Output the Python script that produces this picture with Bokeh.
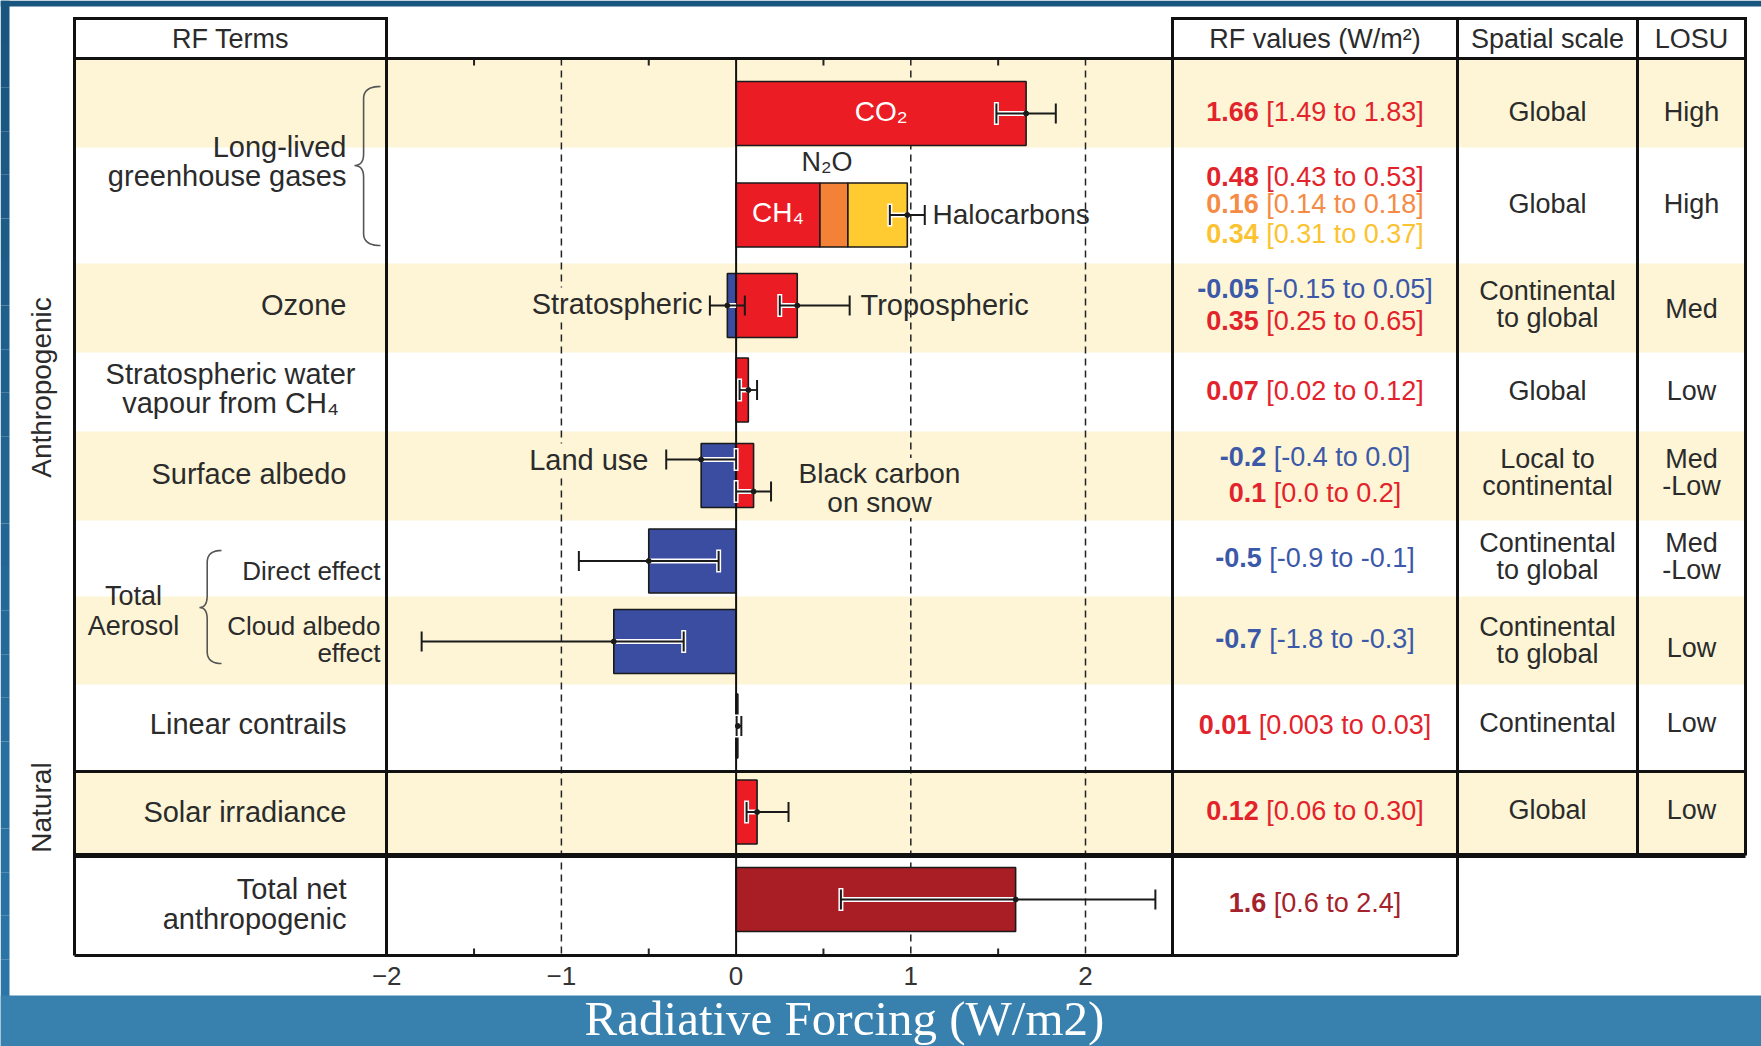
import numpy as np
from bokeh.plotting import figure
from bokeh.models import Range1d
from bokeh.core.properties import value
from bokeh.embed import file_html
from bokeh.resources import INLINE

# ---------------- data: radiative forcing terms (W/m^2) ----------------
terms = ["CO₂", "CH₄", "N₂O", "Halocarbons",
         "Stratospheric ozone", "Tropospheric ozone",
         "Stratospheric water vapour from CH₄",
         "Land use", "Black carbon on snow",
         "Aerosol direct effect", "Aerosol cloud albedo effect",
         "Linear contrails", "Solar irradiance", "Total net anthropogenic"]
best = [1.66, 0.48, 0.16, 0.34, -0.05, 0.35, 0.07, -0.2, 0.1, -0.5, -0.7, 0.01, 0.12, 1.6]
low = [1.49, 0.43, 0.14, 0.31, -0.15, 0.25, 0.02, -0.4, 0.0, -0.9, -1.8, 0.003, 0.06, 0.6]
high = [1.83, 0.53, 0.18, 0.37, 0.05, 0.65, 0.12, 0.0, 0.2, -0.1, -0.3, 0.03, 0.30, 2.4]
decimals = [2, 2, 2, 2, 2, 2, 2, 1, 1, 1, 1, 2, 2, 1]

spatial_scale = ["Global", "Global", "Continental\nto global", "Global",
                 "Local to\ncontinental", "Continental\nto global",
                 "Continental\nto global", "Continental", "Global"]
losu = ["High", "High", "Med", "Low", "Med\n-Low", "Med\n-Low", "Low", "Low", "Low"]

tick_values = [-2, -1, 0, 1, 2]

# ---------------- styling ----------------
FONT = "Liberation Sans"
SERIF = "Liberation Serif"
INK = "#2b2b2b"
BEIGE = "#fdf5d6"
RED, ORANGE, YELLOW, BLUE, DARK = "#ec1c24", "#f48236", "#ffcb31", "#3a4da0", "#a91d24"
bar_colors = [RED, RED, ORANGE, YELLOW, BLUE, RED, RED, BLUE, RED, BLUE, BLUE, RED, RED, DARK]
T_RED, T_OR, T_YE, T_BL, T_DK = "#e3232b", "#f58b45", "#fbc330", "#3c58a8", "#a4222b"
text_colors = [T_RED, T_RED, T_OR, T_YE, T_BL, T_RED, T_RED, T_BL, T_RED, T_BL, T_BL, T_RED, T_RED, T_DK]

# ---------------- page geometry (pixels) ----------------
W, H = 1761, 1046
ZERO_PX, UNIT_PX = 735.6, 174.7          # where 0 W/m2 sits and width of 1 W/m2


def X(px):
    return (px - ZERO_PX) / UNIT_PX


TAB_L, TERMS_R, PLOT_R, VAL_R, SP_R, LOSU_R = 74, 386, 1172, 1457, 1637, 1745
HEAD_T, HEAD_B = 18, 58
NAT_T, NAT_B, TAB_B = 771, 855, 955
bands = [(58, 147), (263, 352), (431, 520), (596, 684), (771, 855)]

bar_y = [113, 214.5, 214.5, 214.5, 305, 305, 389.5, 475, 475, 560.5, 641, 725.5, 811.5, 899]
err_y = [113, None, None, None, 305, 305, 389.5, 459, 491, 560.5, 641, 725.5, 811.5, 899]
value_y = [111, 176, 203, 233, 288, 320, 390, 456, 492, 557, 638, 724, 810, 902]
BAR_H = 64

p = figure(width=W, height=H, x_range=Range1d(X(0), X(W)), y_range=Range1d(H, 0),
           output_backend="svg", toolbar_location=None,
           x_axis_type=None, y_axis_type=None, min_border=0)
p.outline_line_color = None
p.background_fill_color = "white"
p.border_fill_color = "white"
p.grid.visible = False


def txt(x, y, s, size, color=INK, align="center", bold=False, font=FONT,
        baseline="middle", angle=0.0, **kw):
    p.text(x=[x], y=[y], text=[s], text_font=value(font), text_font_size=size,
           text_color=color, text_align=align, text_baseline=baseline,
           text_font_style="bold" if bold else "normal", angle=angle, **kw)


# ---------------- slide frame ----------------
n_strip = 24
edges = np.linspace(0, H, n_strip + 1)
c0, c1 = np.array([0x1a, 0x55, 0x80]), np.array([0x2d, 0x77, 0xa9])
cols = ["#%02x%02x%02x" % tuple((c0 + (c1 - c0) * t).astype(int)) for t in np.linspace(0, 1, n_strip)]
p.quad(left=X(0), right=X(9), top=edges[:-1], bottom=edges[1:], fill_color=cols, line_color=None)
p.quad(left=X(0), right=X(W), top=0, bottom=6, fill_color="#18567f", line_color=None)
p.quad(left=X(0), right=X(W), top=995, bottom=H, fill_color="#3880ad", line_color=None)
txt(X(844), 1018, "Radiative Forcing (W/m2)", "49px", color="white", font=SERIF)

# ---------------- table background bands ----------------
p.quad(left=X(TAB_L), right=X(LOSU_R), top=[b[0] for b in bands], bottom=[b[1] for b in bands],
       fill_color=BEIGE, line_color=None)

# reference lines of the forcing scale
for v in [-1, 1, 2]:
    p.segment(x0=v, y0=HEAD_B, x1=v, y1=TAB_B, line_color="#222222", line_width=1.5, line_dash="7 5")
half_ticks = list(np.arange(-1.5, 2.0, 1.0))
p.segment(x0=half_ticks, y0=HEAD_B, x1=half_ticks, y1=HEAD_B + 7, line_color="#222222", line_width=2)
p.segment(x0=half_ticks, y0=TAB_B, x1=half_ticks, y1=TAB_B - 7, line_color="#222222", line_width=2)

# ---------------- bars ----------------
start = [0.0] * len(best)
start[2] = best[1]
start[3] = best[1] + best[2]
lefts = [min(s, s + b) for s, b in zip(start, best)]
rights = [max(s, s + b) for s, b in zip(start, best)]
p.quad(left=lefts, right=rights, top=[y - BAR_H / 2 for y in bar_y], bottom=[y + BAR_H / 2 for y in bar_y],
       fill_color=bar_colors, line_color="#1a1a1a", line_width=1.6)

# zero line
p.segment(x0=0, y0=HEAD_B, x1=0, y1=TAB_B, line_color="#111111", line_width=2)

# ---------------- uncertainty ranges ----------------
ghg = slice(1, 4)
err = [(best[0], low[0], high[0], err_y[0])]
err.append((sum(best[ghg]), sum(low[ghg]), sum(high[ghg]), bar_y[1]))
for i in range(4, len(best)):
    err.append((best[i], low[i], high[i], err_y[i]))

CAP = 10
for v, lo, hi, y in err:
    b_lo, b_hi = min(0.0, v), max(0.0, v)
    i_lo, i_hi = max(lo, b_lo), min(hi, b_hi)
    if i_hi > i_lo:
        p.segment(x0=i_lo, y0=y, x1=i_hi, y1=y, line_color="white", line_width=5)
    for c in (lo, hi):
        if b_lo <= c <= b_hi and b_hi > b_lo:
            p.segment(x0=c, y0=y - CAP - 1.5, x1=c, y1=y + CAP + 1.5, line_color="white", line_width=5)
    p.segment(x0=lo, y0=y, x1=hi, y1=y, line_color="#1a1a1a", line_width=1.8)
    p.segment(x0=[lo, hi], y0=y - CAP, x1=[lo, hi], y1=y + CAP, line_color="#1a1a1a", line_width=2)
    p.scatter(x=[v], y=[y], size=5, color="#1a1a1a")

# ---------------- labels inside the forcing panel ----------------
txt(best[0] / 2, 111, "CO₂", "28px", color="white")
txt(best[1] / 2, 212, "CH₄", "28px", color="white")
txt(start[2] + best[2] / 2 - 0.04, 161, "N₂O", "27px")
txt(X(932), 214, "Halocarbons", "28px", align="left")
txt(X(702), 303, "Stratospheric", "29px", align="right", background_fill_color=BEIGE)
txt(X(860), 304, "Tropospheric", "29px", align="left")
txt(X(648), 459, "Land use", "29px", align="right", background_fill_color=BEIGE)
txt(X(879), 473, "Black carbon", "28px", background_fill_color=BEIGE)
txt(X(879), 502, "on snow", "28px", background_fill_color=BEIGE)

# ---------------- RF terms column ----------------
RA = X(346)
for s, y in [("Long-lived", 146), ("greenhouse gases", 175), ("Ozone", 304), ("Surface albedo", 473),
             ("Linear contrails", 723), ("Solar irradiance", 811), ("Total net", 888), ("anthropogenic", 918)]:
    txt(RA, y, s, "29px", align="right")
txt(X(230), 373, "Stratospheric water", "29px")
txt(X(230), 402, "vapour from CH₄", "29px")
txt(X(133), 595, "Total", "27px")
txt(X(133), 625, "Aerosol", "27px")
for s, y in [("Direct effect", 570), ("Cloud albedo", 625), ("effect", 652)]:
    txt(X(380), y, s, "26px", align="right")

txt(X(41), 387, "Anthropogenic", "28px", angle=np.pi / 2)
txt(X(41), 807, "Natural", "28px", angle=np.pi / 2)


def brace(x_end, x_tip, y0, y1, y_tip, r=12):
    xs_ = x_tip + (x_end - x_tip) * 0.35
    pts = []

    def quad_bez(a, c, b, n=12):
        for t in np.linspace(0, 1, n):
            pts.append(((1 - t) ** 2 * a[0] + 2 * (1 - t) * t * c[0] + t ** 2 * b[0],
                        (1 - t) ** 2 * a[1] + 2 * (1 - t) * t * c[1] + t ** 2 * b[1]))
    quad_bez((x_end, y0), (xs_, y0), (xs_, y0 + r))
    quad_bez((xs_, y_tip - r), (xs_, y_tip), (x_tip, y_tip))
    quad_bez((x_tip, y_tip), (xs_, y_tip), (xs_, y_tip + r))
    quad_bez((xs_, y1 - r), (xs_, y1), (x_end, y1))
    p.line(x=[X(a) for a, _ in pts], y=[b for _, b in pts], line_color="#555555", line_width=1.6)


brace(380, 354, 86, 245, 165)
brace(221, 199, 550, 663, 607)

# ---------------- RF values column ----------------
AW = {c: 0.556 for c in "0123456789"}
AW.update({".": 0.278, "-": 0.333, "[": 0.278, "]": 0.278, " ": 0.278, "t": 0.278, "o": 0.556})


def fmt(v, d):
    s = f"{v:.{d}f}"
    return s if abs(float(s) - v) < 1e-9 else f"{v:g}"


VAL_FS = 27
VAL_C = (PLOT_R + VAL_R) / 2
for i in range(len(best)):
    sb = fmt(best[i], decimals[i])
    sr = "[%s to %s]" % (fmt(low[i], decimals[i]), fmt(high[i], decimals[i]))
    wb = sum(AW[c] for c in sb) * VAL_FS
    wr = (sum(AW[c] for c in sr) + AW[" "]) * VAL_FS
    x0 = VAL_C - (wb + wr) / 2
    txt(X(x0), value_y[i], sb, "%dpx" % VAL_FS, color=text_colors[i], align="left", bold=True)
    txt(X(x0 + wb + AW[" "] * VAL_FS), value_y[i], sr, "%dpx" % VAL_FS,
        color=text_colors[i], align="left")

# ---------------- spatial scale / LOSU columns ----------------
sp_y = [111, 203, 304, 390, 471.5, 555.5, 639.5, 722, 809]
lo_y = [111, 203, 308, 390, 471.5, 555.5, 647, 722, 809]
LINE = 27


def multiline(xc, yc, s, size):
    parts = s.split("\n")
    for k, ln in enumerate(parts):
        txt(xc, yc + (k - (len(parts) - 1) / 2) * LINE, ln, size)


for s, y in zip(spatial_scale, sp_y):
    multiline(X((VAL_R + SP_R) / 2), y, s, "27px")
for s, y in zip(losu, lo_y):
    multiline(X((SP_R + LOSU_R) / 2), y, s, "27px")

# ---------------- headers ----------------
txt(X((TAB_L + TERMS_R) / 2), 38, "RF Terms", "27px")
txt(X(VAL_C), 38, "RF values (W/m²)", "27px")
txt(X((VAL_R + SP_R) / 2), 38, "Spatial scale", "27px")
txt(X((SP_R + LOSU_R) / 2), 38, "LOSU", "27px")

# ---------------- table rules ----------------
K = "#111111"
hx0 = [X(TAB_L), X(PLOT_R), X(TAB_L), X(TAB_L), X(TAB_L), X(TAB_L)]
hx1 = [X(TERMS_R), X(LOSU_R), X(LOSU_R), X(LOSU_R), X(LOSU_R), X(VAL_R)]
hy = [HEAD_T, HEAD_T, HEAD_B, NAT_T, NAT_B, TAB_B]
hw = [3, 3, 3, 3, 5, 3]
p.segment(x0=hx0, y0=hy, x1=hx1, y1=hy, line_color=K, line_width=hw)
vx = [X(TAB_L), X(TERMS_R), X(PLOT_R), X(VAL_R), X(SP_R), X(LOSU_R)]
vy1 = [TAB_B, TAB_B, TAB_B, TAB_B, NAT_B, NAT_B]
p.segment(x0=vx, y0=HEAD_T - 1.5, x1=vx, y1=vy1, line_color=K, line_width=3)

# ---------------- scale labels ----------------
tick_text = [("−%d" % abs(t)) if t < 0 else str(t) for t in tick_values]
p.text(x=tick_values, y=[975] * len(tick_values), text=tick_text, text_font=value(FONT),
       text_font_size="26px", text_color="#333333", text_align="center", text_baseline="middle")

open("out.html", "w").write(file_html(p, INLINE))
